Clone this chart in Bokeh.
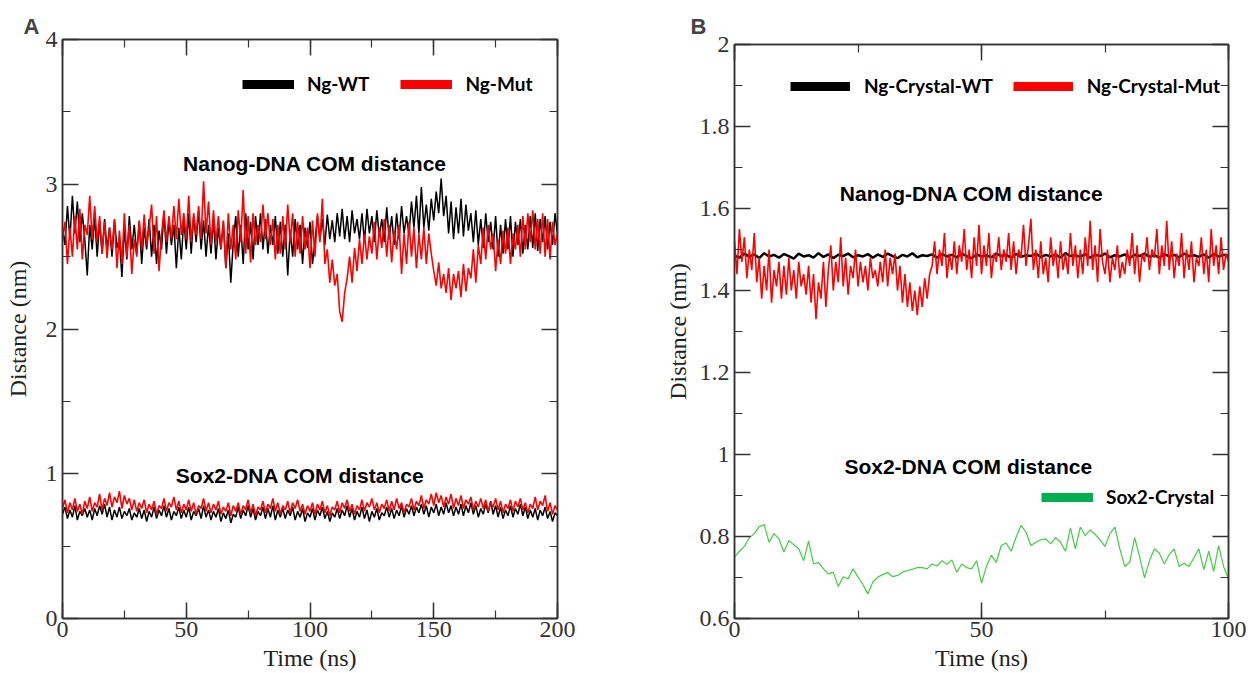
from bokeh.plotting import figure
from bokeh.layouts import row
from bokeh.models import (Range1d, LinearAxis, Label, Legend, LegendItem,
                          SingleIntervalTicker, CustomJSTickFormatter)
from bokeh.embed import file_html
from bokeh.resources import INLINE

# ---------------- data: panel A (0-200 ns, 1 ns samples) ----------------
time_a = list(range(0, 201))

nanog_wt_a = [
2.70, 2.58, 2.85, 2.62, 2.92, 2.66, 2.88, 2.60, 2.80, 2.62,
2.37, 2.72, 2.55, 2.78, 2.50, 2.74, 2.52, 2.76, 2.55, 2.70,
2.50, 2.75, 2.56, 2.62, 2.36, 2.70, 2.48, 2.78, 2.55, 2.72,
2.52, 2.74, 2.45, 2.70, 2.55, 2.76, 2.50, 2.72, 2.45, 2.68,
2.55, 2.80, 2.52, 2.75, 2.58, 2.72, 2.42, 2.70, 2.48, 2.76,
2.55, 2.80, 2.52, 2.78, 2.60, 2.82, 2.55, 2.75, 2.50, 2.72,
2.52, 2.76, 2.48, 2.70, 2.55, 2.74, 2.42, 2.66, 2.32, 2.60,
2.78, 2.50, 2.72, 2.45, 2.80, 2.55, 2.74, 2.48, 2.78, 2.58,
2.80, 2.55, 2.76, 2.52, 2.72, 2.58, 2.78, 2.52, 2.74, 2.50,
2.72, 2.37, 2.68, 2.50, 2.76, 2.55, 2.72, 2.45, 2.70, 2.56,
2.74, 2.45, 2.60, 2.78, 2.62, 2.76, 2.58, 2.79, 2.62, 2.75,
2.60, 2.80, 2.64, 2.83, 2.62, 2.78, 2.60, 2.82, 2.66, 2.76,
2.62, 2.80, 2.60, 2.83, 2.66, 2.78, 2.60, 2.82, 2.64, 2.76,
2.60, 2.84, 2.62, 2.78, 2.58, 2.80, 2.62, 2.85, 2.66, 2.78,
2.65, 2.88, 2.70, 2.92, 2.66, 2.98, 2.70, 2.86, 2.68, 2.90,
2.75, 2.95, 2.80, 3.04, 2.78, 2.92, 2.66, 2.88, 2.62, 2.84,
2.66, 2.90, 2.64, 2.86, 2.68, 2.80, 2.60, 2.82, 2.58, 2.76,
2.56, 2.80, 2.60, 2.74, 2.55, 2.78, 2.50, 2.72, 2.52, 2.76,
2.55, 2.78, 2.50, 2.74, 2.58, 2.76, 2.52, 2.72, 2.55, 2.78,
2.56, 2.80, 2.54, 2.76, 2.60, 2.78, 2.55, 2.74, 2.58, 2.80,
2.65]

nanog_mut_a = [
2.62, 2.74, 2.45, 2.70, 2.50, 2.78, 2.55, 2.83, 2.48, 2.72,
2.65, 2.92, 2.62, 2.85, 2.60, 2.78, 2.52, 2.74, 2.49, 2.70,
2.55, 2.76, 2.42, 2.68, 2.45, 2.80, 2.50, 2.72, 2.38, 2.62,
2.50, 2.75, 2.55, 2.79, 2.58, 2.70, 2.86, 2.52, 2.78, 2.40,
2.65, 2.82, 2.60, 2.78, 2.62, 2.85, 2.62, 2.90, 2.65, 2.80,
2.62, 2.92, 2.60, 2.80, 2.65, 2.85, 2.62, 3.02, 2.66, 2.88,
2.58, 2.82, 2.60, 2.78, 2.56, 2.75, 2.42, 2.80, 2.55, 2.72,
2.48, 2.82, 2.60, 2.96, 2.52, 2.78, 2.46, 2.80, 2.58, 2.72,
2.60, 2.86, 2.62, 2.80, 2.58, 2.76, 2.48, 2.72, 2.52, 2.78,
2.55, 2.86, 2.60, 2.80, 2.50, 2.74, 2.52, 2.78, 2.55, 2.70,
2.42, 2.75, 2.50, 2.80, 2.60, 2.90, 2.45, 2.55, 2.32, 2.48,
2.30, 2.38, 2.12, 2.05, 2.25, 2.35, 2.50, 2.32, 2.56, 2.40,
2.62, 2.45, 2.66, 2.48, 2.64, 2.52, 2.74, 2.48, 2.70, 2.56,
2.76, 2.50, 2.72, 2.46, 2.68, 2.55, 2.72, 2.38, 2.66, 2.45,
2.74, 2.50, 2.70, 2.42, 2.66, 2.48, 2.70, 2.45, 2.66, 2.52,
2.40, 2.30, 2.46, 2.28, 2.38, 2.25, 2.42, 2.20, 2.38, 2.28,
2.40, 2.22, 2.45, 2.26, 2.42, 2.35, 2.55, 2.32, 2.58, 2.45,
2.70, 2.48, 2.72, 2.55, 2.66, 2.40, 2.62, 2.45, 2.68, 2.52,
2.70, 2.45, 2.66, 2.55, 2.72, 2.50, 2.78, 2.55, 2.80, 2.60,
2.82, 2.55, 2.76, 2.52, 2.80, 2.50, 2.76, 2.48, 2.74, 2.58,
2.66]

sox2_wt_a = [
0.72, 0.77, 0.69, 0.75, 0.70, 0.78, 0.68, 0.74, 0.71, 0.76,
0.70, 0.75, 0.68, 0.76, 0.71, 0.78, 0.72, 0.79, 0.70, 0.77,
0.68, 0.75, 0.70, 0.77, 0.69, 0.74, 0.71, 0.76, 0.68, 0.73,
0.70, 0.76, 0.69, 0.75, 0.67, 0.74, 0.70, 0.77, 0.69, 0.75,
0.71, 0.78, 0.70, 0.76, 0.68, 0.74, 0.71, 0.77, 0.69, 0.75,
0.70, 0.77, 0.68, 0.74, 0.71, 0.76, 0.69, 0.78, 0.70, 0.75,
0.68, 0.74, 0.70, 0.76, 0.67, 0.73, 0.69, 0.75, 0.66, 0.72,
0.70, 0.77, 0.69, 0.75, 0.71, 0.78, 0.70, 0.76, 0.68, 0.74,
0.71, 0.77, 0.69, 0.76, 0.70, 0.78, 0.68, 0.75, 0.70, 0.76,
0.69, 0.75, 0.71, 0.77, 0.68, 0.74, 0.70, 0.76, 0.67, 0.73,
0.70, 0.76, 0.68, 0.75, 0.71, 0.77, 0.69, 0.74, 0.67, 0.73,
0.70, 0.76, 0.69, 0.75, 0.71, 0.78, 0.70, 0.76, 0.68, 0.74,
0.70, 0.77, 0.69, 0.75, 0.67, 0.74, 0.70, 0.76, 0.68, 0.73,
0.71, 0.77, 0.70, 0.76, 0.69, 0.75, 0.71, 0.78, 0.70, 0.76,
0.72, 0.78, 0.71, 0.77, 0.73, 0.79, 0.72, 0.78, 0.70, 0.77,
0.73, 0.79, 0.71, 0.77, 0.72, 0.80, 0.73, 0.78, 0.71, 0.77,
0.72, 0.79, 0.71, 0.78, 0.73, 0.80, 0.72, 0.78, 0.70, 0.76,
0.72, 0.79, 0.73, 0.81, 0.72, 0.78, 0.70, 0.77, 0.69, 0.75,
0.71, 0.78, 0.70, 0.76, 0.72, 0.79, 0.71, 0.77, 0.69, 0.75,
0.70, 0.76, 0.68, 0.75, 0.71, 0.77, 0.69, 0.74, 0.67, 0.73,
0.71]

sox2_mut_a = [
0.76, 0.82, 0.73, 0.80, 0.75, 0.83, 0.74, 0.79, 0.72, 0.81,
0.76, 0.84, 0.74, 0.80, 0.77, 0.86, 0.75, 0.83, 0.78, 0.87,
0.77, 0.84, 0.80, 0.88, 0.76, 0.85, 0.79, 0.83, 0.75, 0.82,
0.74, 0.80, 0.76, 0.82, 0.73, 0.79, 0.75, 0.81, 0.72, 0.78,
0.76, 0.83, 0.74, 0.80, 0.77, 0.84, 0.75, 0.81, 0.73, 0.79,
0.75, 0.82, 0.74, 0.80, 0.72, 0.78, 0.76, 0.83, 0.74, 0.80,
0.73, 0.79, 0.75, 0.81, 0.72, 0.77, 0.74, 0.80, 0.71, 0.78,
0.74, 0.80, 0.72, 0.78, 0.75, 0.82, 0.73, 0.79, 0.71, 0.77,
0.75, 0.81, 0.73, 0.79, 0.76, 0.83, 0.74, 0.80, 0.72, 0.78,
0.75, 0.81, 0.73, 0.80, 0.76, 0.82, 0.74, 0.79, 0.72, 0.78,
0.74, 0.80, 0.72, 0.79, 0.75, 0.81, 0.73, 0.78, 0.71, 0.77,
0.75, 0.81, 0.73, 0.80, 0.76, 0.82, 0.74, 0.79, 0.72, 0.78,
0.75, 0.82, 0.74, 0.80, 0.77, 0.83, 0.75, 0.80, 0.73, 0.79,
0.76, 0.82, 0.74, 0.81, 0.75, 0.83, 0.76, 0.80, 0.73, 0.79,
0.77, 0.83, 0.75, 0.81, 0.78, 0.85, 0.76, 0.82, 0.79, 0.86,
0.78, 0.87, 0.80, 0.85, 0.77, 0.84, 0.79, 0.86, 0.76, 0.83,
0.78, 0.85, 0.76, 0.82, 0.79, 0.84, 0.75, 0.81, 0.77, 0.83,
0.76, 0.82, 0.74, 0.80, 0.77, 0.83, 0.75, 0.81, 0.73, 0.79,
0.76, 0.82, 0.74, 0.81, 0.77, 0.83, 0.75, 0.80, 0.73, 0.79,
0.76, 0.84, 0.75, 0.81, 0.78, 0.85, 0.74, 0.80, 0.72, 0.78,
0.75]

# ---------------- data: panel B (0-100 ns) ----------------
time_b = list(range(0, 101))
time_b_half = [i / 2 for i in range(0, 201)]

nanog_crystal_wt_b = [
1.485, 1.480, 1.490, 1.482, 1.488, 1.479, 1.491, 1.483, 1.487, 1.480,
1.489, 1.484, 1.478, 1.490, 1.483, 1.486, 1.480, 1.491, 1.482, 1.488,
1.479, 1.487, 1.484, 1.490, 1.481, 1.486, 1.483, 1.489, 1.480, 1.488,
1.482, 1.490, 1.484, 1.479, 1.487, 1.483, 1.491, 1.481, 1.486, 1.484,
1.488, 1.480, 1.489, 1.483, 1.487, 1.481, 1.490, 1.484, 1.479, 1.488,
1.483, 1.486, 1.481, 1.490, 1.484, 1.487, 1.480, 1.489, 1.482, 1.486,
1.484, 1.490, 1.481, 1.487, 1.483, 1.488, 1.480, 1.491, 1.484, 1.486,
1.482, 1.489, 1.480, 1.487, 1.484, 1.490, 1.481, 1.486, 1.483, 1.488,
1.479, 1.487, 1.484, 1.490, 1.482, 1.486, 1.480, 1.489, 1.483, 1.487,
1.481, 1.490, 1.484, 1.486, 1.482, 1.488, 1.480, 1.489, 1.483, 1.487,
1.485]

nanog_crystal_mut_b = [
1.52, 1.44, 1.55, 1.47, 1.53, 1.43, 1.50, 1.45, 1.54, 1.42,
1.48, 1.38, 1.46, 1.40, 1.50, 1.37, 1.45, 1.41, 1.47, 1.38,
1.46, 1.39, 1.48, 1.40, 1.45, 1.38, 1.47, 1.41, 1.44, 1.39,
1.46, 1.37, 1.44, 1.33, 1.42, 1.38, 1.47, 1.36, 1.45, 1.51,
1.40, 1.47, 1.42, 1.53, 1.41, 1.48, 1.39, 1.46, 1.43, 1.50,
1.41, 1.47, 1.42, 1.46, 1.40, 1.48, 1.43, 1.45, 1.41, 1.47,
1.42, 1.50, 1.41, 1.48, 1.44, 1.49, 1.40, 1.46, 1.37, 1.44,
1.36, 1.42, 1.35, 1.40, 1.34, 1.41, 1.36, 1.43, 1.38, 1.44,
1.46, 1.52, 1.44, 1.50, 1.46, 1.54, 1.43, 1.49, 1.45, 1.52,
1.44, 1.51, 1.47, 1.55, 1.45, 1.50, 1.43, 1.53, 1.46, 1.56,
1.44, 1.51, 1.46, 1.54, 1.43, 1.49, 1.47, 1.53, 1.45, 1.50,
1.47, 1.54, 1.45, 1.52, 1.44, 1.50, 1.48, 1.56, 1.46, 1.51,
1.575, 1.45, 1.50, 1.43, 1.52, 1.44, 1.48, 1.42, 1.53, 1.46,
1.50, 1.43, 1.52, 1.45, 1.49, 1.44, 1.54, 1.46, 1.51, 1.43,
1.50, 1.44, 1.53, 1.46, 1.57, 1.45, 1.51, 1.42, 1.55, 1.47,
1.44, 1.50, 1.42, 1.48, 1.45, 1.51, 1.43, 1.47, 1.44, 1.50,
1.46, 1.54, 1.44, 1.51, 1.42, 1.49, 1.47, 1.53, 1.45, 1.50,
1.48, 1.55, 1.44, 1.51, 1.46, 1.57, 1.45, 1.52, 1.43, 1.49,
1.46, 1.54, 1.43, 1.50, 1.45, 1.52, 1.42, 1.48, 1.46, 1.53,
1.44, 1.50, 1.42, 1.55, 1.46, 1.51, 1.44, 1.53, 1.45, 1.49,
1.47]

sox2_crystal_b = [
0.750, 0.764, 0.776, 0.797, 0.807, 0.824, 0.829, 0.786, 0.807, 0.794,
0.762, 0.790, 0.780, 0.770, 0.741, 0.789, 0.733, 0.737, 0.721, 0.709,
0.713, 0.678, 0.702, 0.697, 0.721, 0.701, 0.683, 0.660, 0.689, 0.701,
0.707, 0.712, 0.702, 0.705, 0.713, 0.717, 0.720, 0.724, 0.724, 0.721,
0.733, 0.728, 0.741, 0.732, 0.743, 0.713, 0.733, 0.724, 0.721, 0.741,
0.686, 0.727, 0.754, 0.737, 0.778, 0.784, 0.764, 0.798, 0.827, 0.811,
0.778, 0.786, 0.792, 0.794, 0.782, 0.797, 0.786, 0.764, 0.821, 0.770,
0.823, 0.802, 0.816, 0.805, 0.792, 0.776, 0.807, 0.823, 0.770, 0.727,
0.737, 0.797, 0.751, 0.699, 0.741, 0.770, 0.759, 0.733, 0.756, 0.770,
0.727, 0.735, 0.727, 0.748, 0.770, 0.719, 0.764, 0.715, 0.778, 0.727,
0.697]

legend_a = ["Ng-WT", "Ng-Mut"]
legend_b = ["Ng-Crystal-WT", "Ng-Crystal-Mut"]
legend_b2 = ["Sox2-Crystal"]

SERIF = "Liberation Serif"
SANS = "Liberation Sans"
LEG = "Lato"


def make_fig(width, xr, yr, bl, br, bt, bb, xint, yint, panel, poff, pstand,
             yfmt=None, lab_stand=6):
    p = figure(width=width, height=673, x_range=Range1d(*xr), y_range=Range1d(*yr),
               output_backend="svg", toolbar_location=None,
               min_border_left=bl, min_border_right=br,
               min_border_top=bt, min_border_bottom=bb)
    p.frame_align = False
    p.title.text = panel
    p.title.text_font = SANS
    p.title.text_font_style = "bold"
    p.title.text_font_size = "22px"
    p.title.align = "left"
    p.title.offset = poff
    p.title.standoff = pstand
    p.xgrid.visible = False
    p.ygrid.visible = False
    p.outline_line_color = "#333333"
    p.outline_line_width = 1.5
    p.background_fill_color = "white"
    p.border_fill_color = "white"

    bottom = p.below[0]
    left = p.left[0]
    bottom.ticker = SingleIntervalTicker(interval=xint, num_minor_ticks=2)
    left.ticker = SingleIntervalTicker(interval=yint, num_minor_ticks=2)
    if yfmt is not None:
        left.formatter = yfmt
    top = LinearAxis(ticker=SingleIntervalTicker(interval=xint, num_minor_ticks=2),
                     formatter=CustomJSTickFormatter(code="return '';"))
    right = LinearAxis(ticker=SingleIntervalTicker(interval=yint, num_minor_ticks=2),
                       formatter=CustomJSTickFormatter(code="return '';"))
    p.add_layout(top, "above")
    p.add_layout(right, "right")
    for ax in [bottom, left, top, right]:
        ax.axis_line_color = "#333333"
        ax.axis_line_width = 1.5
        ax.major_tick_line_color = "#333333"
        ax.minor_tick_line_color = "#333333"
        ax.major_tick_line_width = 1.5
        ax.minor_tick_line_width = 1.2
        ax.major_tick_in = 16
        ax.major_tick_out = 0
        ax.minor_tick_in = 8
        ax.minor_tick_out = 0
        ax.major_label_text_font = SERIF
        ax.major_label_text_font_size = "24px"
        ax.major_label_text_color = "#333333"
        ax.axis_label_text_font = SERIF
        ax.axis_label_text_font_size = "24px"
        ax.axis_label_text_font_style = "normal"
        ax.axis_label_text_color = "#222222"
    for ax in [top, right]:
        ax.major_label_standoff = 0
        ax.major_label_text_font_size = "1px"
    bottom.major_label_standoff = 3
    bottom.axis_label_standoff = 5
    left.major_label_standoff = 5
    left.axis_label_standoff = lab_stand
    bottom.axis_label = "Time (ns)"
    left.axis_label = "Distance (nm)"
    return p


def add_text(p, x, y, text, size="21px", font=SANS, align="center"):
    p.add_layout(Label(x=x, y=y, text=text,
                       text_font=font, text_font_style="bold", text_font_size=size,
                       text_align=align, text_baseline="middle", text_color="black"))


def add_legend(p, names, colors, loc, gw, standoff, spacing, xs):
    items = []
    for n, c in zip(names, colors):
        # invisible placeholder renderer (NaN value) that only carries the legend style
        r = p.line(x=xs[:1], y=[float("nan")], line_width=9, color=c)
        items.append(LegendItem(label=n, renderers=[r]))
    lg = Legend(items=items, location=loc, orientation="horizontal",
                glyph_width=gw, glyph_height=22, label_standoff=standoff,
                spacing=spacing, padding=0, margin=0,
                border_line_color=None, background_fill_alpha=0,
                label_text_font=LEG, label_text_font_style="bold",
                label_text_font_size="19px", label_text_color="black")
    p.add_layout(lg, "center")


# ---------------- Panel A ----------------
pa = make_fig(620, (0, 200), (0, 4), 62, 63, 39, 55, 50, 1, "A", -39, 2, lab_stand=12)
pa.line(time_a, nanog_wt_a, color="black", line_width=1.5)
pa.line(time_a, nanog_mut_a, color="#ff0000", line_width=1.6)
pa.line(time_a, sox2_wt_a, color="black", line_width=1.5)
pa.line(time_a, sox2_mut_a, color="#ff0000", line_width=1.6)
add_text(pa, 102, 3.14, "Nanog-DNA COM distance")
add_text(pa, 96, 0.99, "Sox2-DNA COM distance")
add_legend(pa, legend_a, ["black", "#ff0000"], (180, 523), 52, 13, 31, time_a)

# ---------------- Panel B ----------------
fmt_b = CustomJSTickFormatter(code="return String(Number(tick.toFixed(1)));")
pb = make_fig(632, (0, 100), (0.6, 2.0), 114, 24, 44, 55, 50, 0.2, "B", -44, 12, yfmt=fmt_b)
pb.line(time_b, nanog_crystal_wt_b, color="black", line_width=2.5)
pb.line(time_b_half, nanog_crystal_mut_b, color="#ff0000", line_width=1.6)
pb.line(time_b, sox2_crystal_b, color="#44cc44", line_width=1.2)
add_text(pb, 48, 1.637, "Nanog-DNA COM distance")
add_text(pb, 47.4, 0.97, "Sox2-DNA COM distance")
add_legend(pb, legend_b, ["black", "#ff0000"], (56, 521), 60, 14, 20, time_b)
add_legend(pb, legend_b2, ["#00b050"], (307, 110), 52, 13, 0, time_b)

layout = row(pa, pb)
open("out.html", "w").write(file_html(layout, INLINE))
